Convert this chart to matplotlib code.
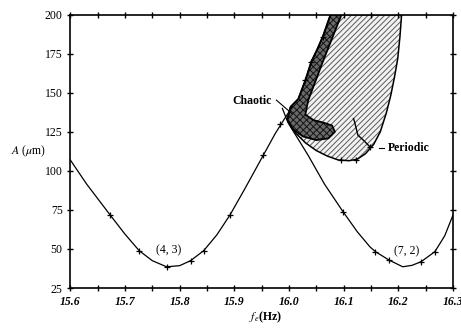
import matplotlib
matplotlib.use("Agg")
import matplotlib.pyplot as plt

# ---- data ----
# (4, 3) resonance curve
left_f = [15.600, 15.630, 15.673, 15.700, 15.726, 15.750, 15.776, 15.800, 15.820,
          15.844, 15.868, 15.892, 15.920, 15.953, 15.975, 15.993, 16.006]
left_A = [107.0, 91.5, 71.7, 59.5, 48.9, 42.5, 38.6, 39.3, 42.5,
          48.9, 59.0, 71.7, 89.0, 110.0, 124.0, 134.0, 141.0]
left_mk_f = [15.673, 15.726, 15.776, 15.820, 15.844, 15.892, 15.953, 15.984]
left_mk_A = [71.7, 48.9, 38.6, 42.5, 48.9, 71.7, 110.0, 130.0]

# (7, 2) resonance curve
right_f = [15.988, 15.998, 16.035, 16.065, 16.099, 16.125, 16.148, 16.158, 16.183,
           16.208, 16.225, 16.242, 16.267, 16.285, 16.300]
right_A = [140.0, 131.0, 110.0, 91.5, 73.8, 61.0, 51.4, 48.3, 42.9,
           38.6, 39.5, 41.9, 48.3, 58.5, 71.7]
right_mk_f = [16.099, 16.158, 16.183, 16.242, 16.267]
right_mk_A = [73.8, 48.3, 42.9, 41.9, 48.3]

# whole hatched region (periodic + chaotic)
region_f = [16.076, 16.206, 16.203, 16.199, 16.193, 16.186, 16.178, 16.167, 16.155,
            16.140, 16.125, 16.110, 16.090, 16.070, 16.050, 16.030, 16.010, 15.997,
            16.003, 16.017, 16.030, 16.041, 16.052, 16.062, 16.076]
region_A = [200.0, 200.0, 186.0, 172.0, 160.0, 148.0, 137.0, 125.0, 117.0,
            111.0, 107.5, 106.5, 107.0, 109.5, 113.0, 118.0, 125.0, 133.0,
            141.0, 146.0, 158.0, 170.0, 178.0, 186.0, 200.0]

# chaotic band + tongue
chaos_f = [16.076, 16.062, 16.052, 16.041, 16.030, 16.017, 16.003, 15.997, 16.006,
           16.026, 16.050, 16.072, 16.084, 16.079, 16.062, 16.045, 16.030, 16.035,
           16.048, 16.062, 16.079, 16.096]
chaos_A = [200.0, 186.0, 178.0, 170.0, 158.0, 146.0, 141.0, 133.0, 127.0,
           122.0, 119.7, 120.8, 125.0, 129.0, 131.0, 132.5, 136.0, 145.0,
           157.0, 170.0, 185.0, 200.0]

# inner boundary line in the periodic region
inner_f = [16.118, 16.120, 16.126, 16.136, 16.148]
inner_A = [133.5, 131.4, 122.9, 119.7, 115.4]

# measured points on region boundary
bnd_mk_f = [16.096, 16.123, 16.148, 16.041, 16.062, 16.030]
bnd_mk_A = [106.8, 107.2, 115.0, 170.0, 186.0, 158.0]

x_ticks = [15.6, 15.7, 15.8, 15.9, 16.0, 16.1, 16.2, 16.3]
x_tick_labels = ["15.6", "15.7", "15.8", "15.9", "16.0", "16.1", "16.2", "16.3"]
x_minor = [15.65, 15.75, 15.85, 15.95, 16.05, 16.15, 16.25]
y_ticks = [25, 50, 75, 100, 125, 150, 175, 200]

# ---- drawing ----
plt.rcParams["font.family"] = ["Liberation Serif", "DejaVu Serif"]
plt.rcParams["mathtext.fontset"] = "stix"
plt.rcParams["hatch.linewidth"] = 0.7

fig = plt.figure(figsize=(4.61, 3.29), dpi=100)
ax = fig.add_axes([0.1525, 0.1246, 0.8301, 0.8307])

ax.fill(region_f, region_A, facecolor="#f2f2f2", edgecolor="#5a5a5a",
        hatch="//////", linewidth=0, zorder=1)
ax.plot(region_f, region_A, color="black", lw=1.1, zorder=3)
ax.fill(chaos_f, chaos_A, facecolor="#6a6a6a", edgecolor="#151515",
        hatch="xxxxx", linewidth=0, zorder=2)
ax.plot(chaos_f, chaos_A, color="black", lw=1.3, zorder=3)
ax.plot(inner_f, inner_A, color="black", lw=1.0, zorder=3)

ax.plot(left_f, left_A, color="black", lw=0.9, zorder=4)
ax.plot(right_f, right_A, color="black", lw=0.9, zorder=4)
ax.plot(left_mk_f, left_mk_A, ls="none", marker="+", ms=4, mew=0.9, color="black", zorder=5)
ax.plot(right_mk_f, right_mk_A, ls="none", marker="+", ms=4, mew=0.9, color="black", zorder=5)
ax.plot(bnd_mk_f, bnd_mk_A, ls="none", marker="+", ms=4, mew=0.9, color="black", zorder=5)

ax.set_xlim(15.6, 16.3)
ax.set_ylim(25, 200)
ax.set_xticks(x_ticks)
ax.set_xticklabels(x_tick_labels, fontstyle="italic", fontweight="bold")
ax.set_xticks(x_minor, minor=True)
ax.set_yticks(y_ticks)
ax.tick_params(which="both", direction="inout", length=5, width=1,
               top=True, right=True, labelsize=8.5, pad=3)
for s in ax.spines.values():
    s.set_linewidth(1.2)

ax.set_xlabel(r"$f_e$(Hz)", fontsize=8.5, fontweight="bold")
ax.xaxis.set_label_coords(0.51, -0.08)
ax.set_ylabel(r"$A$ ($\mu$m)", fontsize=8.5, rotation=0, ha="center", va="center")
ax.yaxis.set_label_coords(-0.11, 0.5)

ax.text(15.779, 49.3, "(4, 3)", fontsize=8.5, ha="center", va="center")
ax.text(16.215, 48.2, "(7, 2)", fontsize=8.5, ha="center", va="center")
ax.text(15.968, 144.8, "Chaotic", fontsize=8.5, fontweight="bold", ha="right", va="center")
ax.plot([15.977, 16.005], [145.3, 136.8], color="black", lw=0.8, zorder=5)
ax.text(16.181, 114.6, "Periodic", fontsize=8.5, fontweight="bold", ha="left", va="center")
ax.plot([16.164, 16.173], [114.8, 114.8], color="black", lw=0.8, zorder=5)

fig.savefig("out.png", dpi=100)
